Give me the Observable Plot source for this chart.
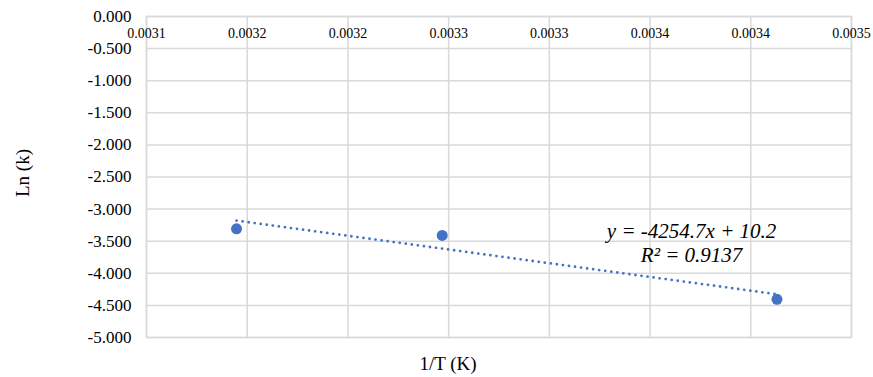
<!DOCTYPE html>
<html>
<head>
<meta charset="utf-8">
<script src="https://cdn.jsdelivr.net/npm/d3@7"></script>
<script src="https://cdn.jsdelivr.net/npm/@observablehq/plot@0.6"></script>
<style>
  html, body { margin: 0; padding: 0; background: white; }
  svg text { font-family: "Liberation Serif", "Times New Roman", serif !important; }
</style>
</head>
<body>
<div id="chart"></div>
<script>
// Data
const invT = [0.0031447, 0.0032468, 0.0034130];
const lnK = [-3.307, -3.41, -4.405];

const xTicks = [0.0031, 0.00315, 0.0032, 0.00325, 0.0033, 0.00335, 0.0034, 0.00345];
const xTickLabels = ["0.0031", "0.0032", "0.0032", "0.0033", "0.0033", "0.0034", "0.0034", "0.0035"];
const yTicks = [0, -0.5, -1, -1.5, -2, -2.5, -3, -3.5, -4, -4.5, -5];

const equationLines = ["y = -4254.7x + 10.2", "R² = 0.9137"];
const equationX = [0.0033706, 0.0033706];
const equationY = [-3.34, -3.72];

const xTitle = "1/T (K)";
const yTitle = "Ln (k)";

const data = invT.map((x, i) => ({x, y: lnK[i]}));
const eqData = equationLines.map((t, i) => ({t, x: equationX[i], y: equationY[i]}));

const blue = "#4472C4";
const grid = "#d9d9d9";
const serif = "Liberation Serif";

const chart = Plot.plot({
  width: 873,
  height: 377,
  marginLeft: 146,
  marginRight: 22,
  marginTop: 16,
  marginBottom: 40,
  style: {fontFamily: serif, background: "white", color: "black"},
  x: {domain: [0.0031, 0.00345]},
  y: {domain: [-5, 0]},
  marks: [
    Plot.gridX(xTicks, {stroke: grid, strokeOpacity: 1, strokeWidth: 1.5}),
    Plot.gridY(yTicks, {stroke: grid, strokeOpacity: 1, strokeWidth: 1.5}),
    Plot.frame({stroke: grid, strokeWidth: 1.5}),
    Plot.axisY(yTicks, {tickSize: 0, tickPadding: 15, tickFormat: d => d.toFixed(3), fontSize: 17, fontFamily: serif, fill: "black", label: null}),
    Plot.axisX(xTicks, {anchor: "top", tickSize: 0, tickPadding: -21, tickFormat: (d, i) => xTickLabels[i], fontSize: 14, fontFamily: serif, fill: "black", label: null}),
    Plot.linearRegressionY(data, {x: "x", y: "y", ci: 0, stroke: blue, strokeWidth: 2.8, strokeDasharray: "0 6.1", strokeLinecap: "round"}),
    Plot.dot(data, {x: "x", y: "y", r: 5.5, fill: blue}),
    Plot.text(eqData, {x: "x", y: "y", text: "t", fontSize: 21, fontFamily: serif, fontStyle: "italic", fill: "black", textAnchor: "middle", lineAnchor: "middle"}),
    Plot.text([xTitle], {frameAnchor: "bottom", dx: -51, dy: 26, fontSize: 19, fontFamily: serif, fill: "black", textAnchor: "middle", lineAnchor: "middle"}),
    Plot.text([yTitle], {frameAnchor: "left", dx: -124, dy: -4, rotate: -90, fontSize: 19, fontFamily: serif, fill: "black", textAnchor: "middle", lineAnchor: "middle"})
  ]
});

document.getElementById("chart").appendChild(chart);
</script>
</body>
</html>
